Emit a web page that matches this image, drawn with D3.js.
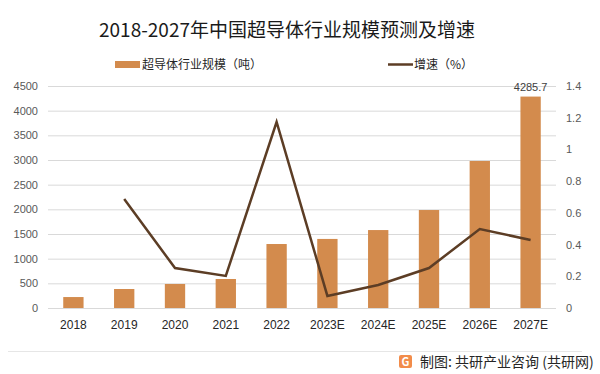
<!doctype html>
<html>
<head>
<meta charset="utf-8">
<title>2018-2027年中国超导体行业规模预测及增速</title>
<script src="https://d3js.org/d3.v7.min.js"></script>
<style>
  body { margin: 0; background: #fff; }
  svg { display: block; font-family: "Noto Sans CJK SC", "Microsoft YaHei", sans-serif; }
</style>
</head>
<body>
<div id="chart"></div>
<script>
// data
var years = ["2018", "2019", "2020", "2021", "2022", "2023E", "2024E", "2025E", "2026E", "2027E"];
var scale = [222, 385, 487, 588, 1297, 1400, 1580, 1986, 2980, 4285.7];
var growth = [null, 0.687, 0.252, 0.202, 1.173, 0.076, 0.145, 0.252, 0.498, 0.429];
var leftTicks = [0, 500, 1000, 1500, 2000, 2500, 3000, 3500, 4000, 4500];
var rightTicks = [0, 0.2, 0.4, 0.6, 0.8, 1, 1.2, 1.4];

var W = 600, H = 374;
var margin = {top: 86, right: 44, bottom: 66, left: 48};

var svg = d3.select("#chart").append("svg")
  .attr("width", W)
  .attr("height", H);

// faint watermarks
var marks = [[70, 140], [300, 110], [160, 240], [400, 230], [40, 330], [290, 345]];
marks.forEach(function(m) {
  svg.append("text")
    .attr("transform", "translate(" + m[0] + "," + m[1] + ") rotate(-12)")
    .style("font-size", "26px")
    .style("font-weight", "bold")
    .style("fill", "#000")
    .style("fill-opacity", 0.025)
    .text("共研产业咨询");
});

var x = d3.scaleBand()
  .domain(years)
  .range([margin.left, W - margin.right])
  .paddingInner(0.6)
  .paddingOuter(0.3);

var y = d3.scaleLinear().domain([0, 4500]).range([H - margin.bottom, margin.top]);
var y2 = d3.scaleLinear().domain([0, 1.4]).range([H - margin.bottom, margin.top]);

// title
svg.append("text")
  .attr("x", 287).attr("y", 37)
  .attr("text-anchor", "middle")
  .style("font-size", "19px")
  .style("fill", "#1a1a1a")
  .text("2018-2027年中国超导体行业规模预测及增速");

// grid lines
svg.append("g")
  .selectAll("line")
  .data(leftTicks)
  .enter().append("line")
  .attr("x1", margin.left).attr("x2", W - margin.right)
  .attr("y1", function(d) { return y(d) + 0.5; })
  .attr("y2", function(d) { return y(d) + 0.5; })
  .style("stroke", "#d9d9d9")
  .style("stroke-width", 1);

// left axis
var yAxis = svg.append("g")
  .attr("transform", "translate(" + (margin.left - 10) + ",0)")
  .call(d3.axisLeft(y).tickValues(leftTicks).tickSize(0).tickPadding(0).tickFormat(d3.format("d")));
yAxis.select(".domain").remove();
yAxis.selectAll("text").style("font-size", "11px").style("fill", "#595959")
  .style("font-family", "'Liberation Sans', Arial, sans-serif");

// right axis
var y2Axis = svg.append("g")
  .attr("transform", "translate(" + (W - margin.right + 10) + ",0)")
  .call(d3.axisRight(y2).tickValues(rightTicks).tickSize(0).tickPadding(0)
    .tickFormat(function(d) { return d3.format("")(d); }));
y2Axis.select(".domain").remove();
y2Axis.selectAll("text").style("font-size", "11px").style("fill", "#595959")
  .style("font-family", "'Liberation Sans', Arial, sans-serif");

// x axis
var xAxis = svg.append("g")
  .attr("transform", "translate(0," + (H - margin.bottom) + ")")
  .call(d3.axisBottom(x).tickSize(0).tickPadding(12));
xAxis.select(".domain").remove();
xAxis.selectAll("text").style("font-size", "12px").style("fill", "#262626")
  .style("font-family", "'Liberation Sans', Arial, sans-serif");

// bars
svg.selectAll(".bar")
  .data(scale)
  .enter().append("rect")
  .attr("class", "bar")
  .attr("x", function(d, i) { return x(years[i]); })
  .attr("width", x.bandwidth())
  .attr("y", function(d) { return y(d); })
  .attr("height", function(d) { return y(0) - y(d); })
  .style("fill", "#d38b4d");

// label on last bar
svg.append("text")
  .attr("x", x(years[9]) + x.bandwidth() / 2)
  .attr("y", y(scale[9]) - 6)
  .attr("text-anchor", "middle")
  .style("font-size", "11px")
  .style("fill", "#404040")
  .style("font-family", "'Liberation Sans', Arial, sans-serif")
  .text("4285.7");

// growth line
var line = d3.line()
  .defined(function(d) { return d != null; })
  .x(function(d, i) { return x(years[i]) + x.bandwidth() / 2; })
  .y(function(d) { return y2(d); });

svg.append("path")
  .datum(growth)
  .attr("d", line)
  .style("fill", "none")
  .style("stroke", "#5c3d25")
  .style("stroke-width", 2.5)
  .style("stroke-linejoin", "miter");

// legend
var lg = svg.append("g");
lg.append("rect").attr("x", 115).attr("y", 61).attr("width", 25).attr("height", 7).style("fill", "#d38b4d");
lg.append("text").attr("x", 142).attr("y", 69).style("font-size", "12px").style("fill", "#262626")
  .text("超导体行业规模（吨）");
lg.append("line").attr("x1", 388).attr("x2", 413).attr("y1", 64.5).attr("y2", 64.5)
  .style("stroke", "#5c3d25").style("stroke-width", 2.5);
lg.append("text").attr("x", 414).attr("y", 69).style("font-size", "12px").style("fill", "#262626")
  .text("增速（%）");

// footer
svg.append("line")
  .attr("x1", 8).attr("x2", 582).attr("y1", 351.5).attr("y2", 351.5)
  .style("stroke", "#e6e6e6");

var logo = svg.append("g").attr("transform", "translate(399,355)");
logo.append("rect").attr("width", 13).attr("height", 13).attr("rx", 2).style("fill", "#f28c4a");
logo.append("text").attr("x", 6.5).attr("y", 11).attr("text-anchor", "middle")
  .style("font-size", "11px").style("font-weight", "bold").style("fill", "#fff").text("G");

svg.append("text")
  .attr("x", 420).attr("y", 367)
  .style("font-size", "14px")
  .style("fill", "#262626")
  .text("制图: 共研产业咨询 (共研网)");
</script>
</body>
</html>
